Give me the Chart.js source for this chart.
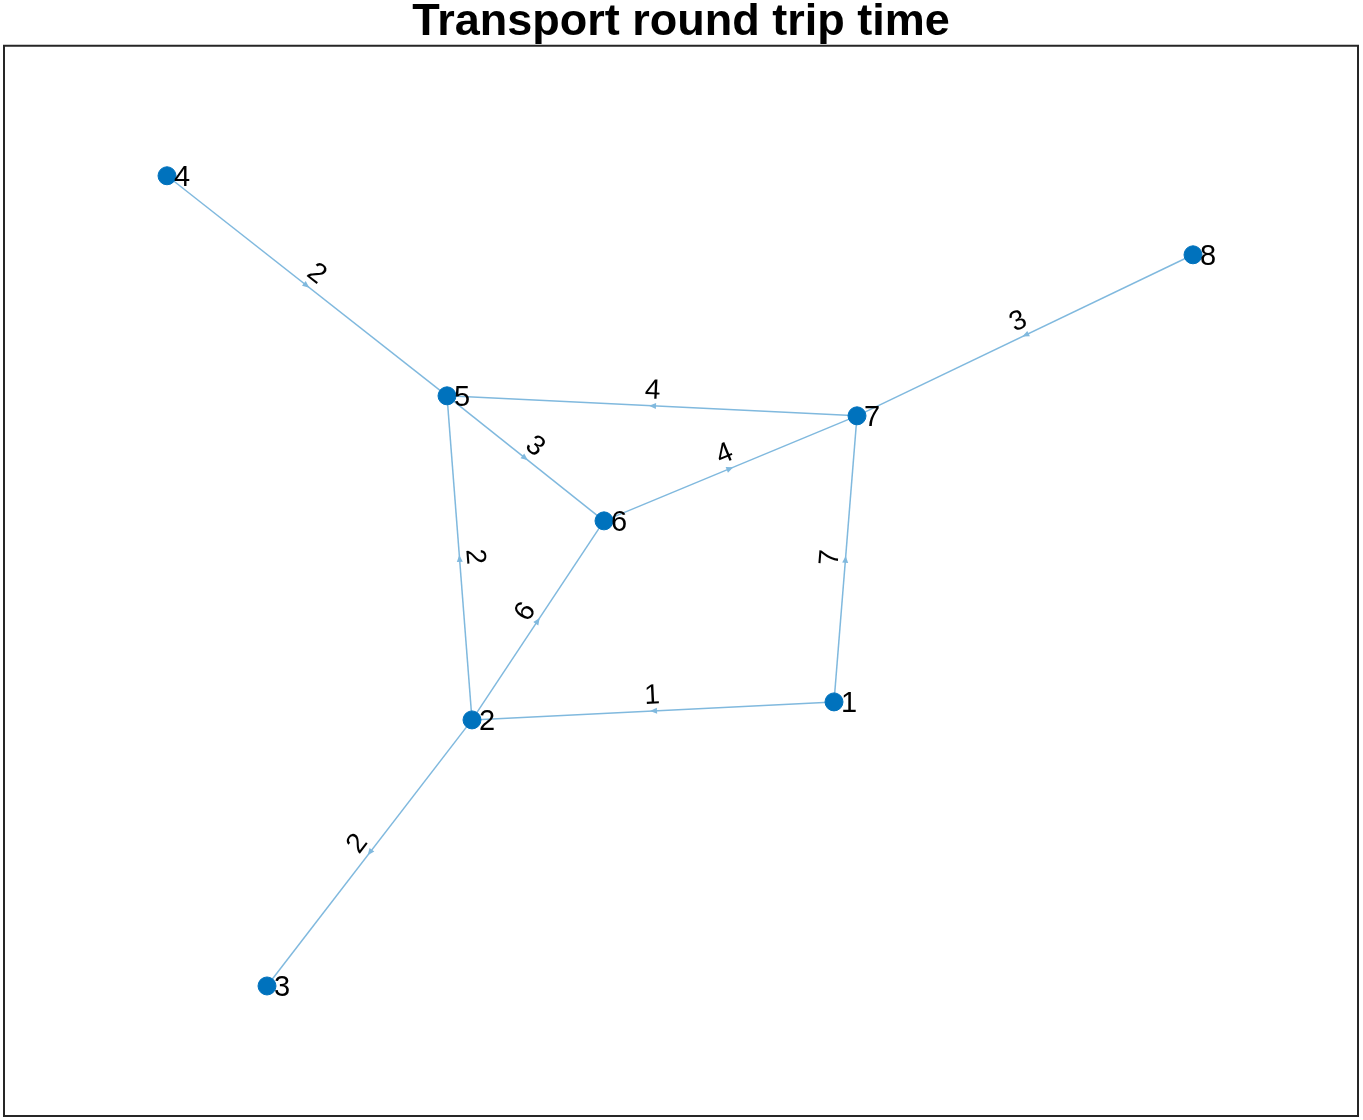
<!DOCTYPE html>
<html>
<head>
<meta charset="utf-8">
<title>Transport round trip time</title>
<script src="https://cdn.jsdelivr.net/npm/chart.js@4"></script>
<style>
  html, body { margin: 0; padding: 0; background: #fff; }
  #wrap { width: 1363px; height: 1120px; }
</style>
</head>
<body>
<div id="wrap"><canvas id="graph" width="1363" height="1120"></canvas></div>
<script>
// ================= DATA =================
const nodeNames = ["1", "2", "3", "4", "5", "6", "7", "8"];
const nodeX = [830, 468, 263, 163, 443, 600, 853, 1189];
const nodeY = [414, 396, 130, 940, 720, 595, 700, 861];

const edgeSource = [4, 5, 2, 2, 6, 7, 1, 1, 2, 8];
const edgeTarget = [5, 6, 5, 6, 7, 5, 7, 2, 3, 7];
const edgeWeight = [2, 3, 2, 6, 4, 4, 7, 1, 2, 3];

const titleText = "Transport round trip time";

// ================= STYLE =================
const NODE_COLOR = "#0072BD";
const EDGE_COLOR = "#80B9DE";
const FONT = "'Liberation Sans', Arial, Helvetica, sans-serif";

// one dataset per edge, plus the node markers
const datasets = edgeSource.map((s, i) => {
  const t = edgeTarget[i];
  return {
    type: "scatter",
    showLine: true,
    order: 1,
    data: [
      { x: nodeX[s - 1], y: nodeY[s - 1] },
      { x: nodeX[t - 1], y: nodeY[t - 1] }
    ],
    borderColor: EDGE_COLOR,
    borderWidth: 1.5,
    pointRadius: 0,
    pointHoverRadius: 0
  };
});

datasets.push({
  type: "scatter",
  order: 0,
  data: nodeX.map((x, i) => ({ x, y: nodeY[i] })),
  backgroundColor: NODE_COLOR,
  borderColor: NODE_COLOR,
  pointRadius: 9,
  pointHoverRadius: 9
});

// ---- box, arrows, edge weights, node names ----
const graphDecor = {
  id: "graphDecor",
  afterDatasetsDraw(chart) {
    const { ctx, chartArea, scales } = chart;
    const px = i => scales.x.getPixelForValue(nodeX[i]);
    const py = i => scales.y.getPixelForValue(nodeY[i]);

    ctx.save();

    // edges: arrows + weights
    edgeSource.forEach((s, i) => {
      const a = s - 1, b = edgeTarget[i] - 1;
      const x1 = px(a), y1 = py(a), x2 = px(b), y2 = py(b);
      const mx = (x1 + x2) / 2, my = (y1 + y2) / 2;
      const ang = Math.atan2(y2 - y1, x2 - x1);

      // small arrowhead at midpoint
      ctx.save();
      ctx.translate(mx, my);
      ctx.rotate(ang);
      ctx.fillStyle = EDGE_COLOR;
      ctx.beginPath();
      ctx.moveTo(3, 0);
      ctx.lineTo(-4, -3);
      ctx.lineTo(-4, 3);
      ctx.closePath();
      ctx.fill();
      ctx.restore();

      // weight label, rotated along edge
      let t = ang;
      if (t > Math.PI / 2) t -= Math.PI;
      if (t < -Math.PI / 2) t += Math.PI;
      const off = 15;
      const lx = mx + Math.sin(t) * off;
      const ly = my - Math.cos(t) * off;
      ctx.save();
      ctx.translate(lx, ly);
      ctx.rotate(t);
      ctx.fillStyle = "#000";
      ctx.font = "28px " + FONT;
      ctx.textAlign = "center";
      ctx.textBaseline = "middle";
      ctx.fillText(String(edgeWeight[i]), 0, 0);
      ctx.restore();
    });

    // node names
    ctx.fillStyle = "#000";
    ctx.font = "29px " + FONT;
    ctx.textAlign = "left";
    ctx.textBaseline = "middle";
    nodeNames.forEach((n, i) => {
      ctx.fillText(n, px(i) + 7, py(i) + 2);
    });

    // axes box
    ctx.strokeStyle = "#262626";
    ctx.lineWidth = 2;
    ctx.strokeRect(chartArea.left, chartArea.top,
      chartArea.right - chartArea.left, chartArea.bottom - chartArea.top);

    ctx.restore();
  }
};

// ================= CHART =================
new Chart(document.getElementById("graph"), {
  type: "scatter",
  data: { datasets },
  options: {
    responsive: false,
    devicePixelRatio: 1,
    animation: false,
    layout: { autoPadding: false, padding: { top: 0, left: 4, right: 5, bottom: 4 } },
    scales: {
      x: { type: "linear", min: 0, max: 1354, display: false },
      y: { type: "linear", min: 0, max: 1070, display: false }
    },
    plugins: {
      legend: { display: false },
      tooltip: { enabled: false },
      title: {
        display: true,
        text: titleText,
        color: "#000",
        font: { family: FONT, size: 45, weight: "bold", lineHeight: 0.75 },
        padding: { top: 6, bottom: 6 }
      }
    }
  },
  plugins: [graphDecor]
});
</script>
</body>
</html>
